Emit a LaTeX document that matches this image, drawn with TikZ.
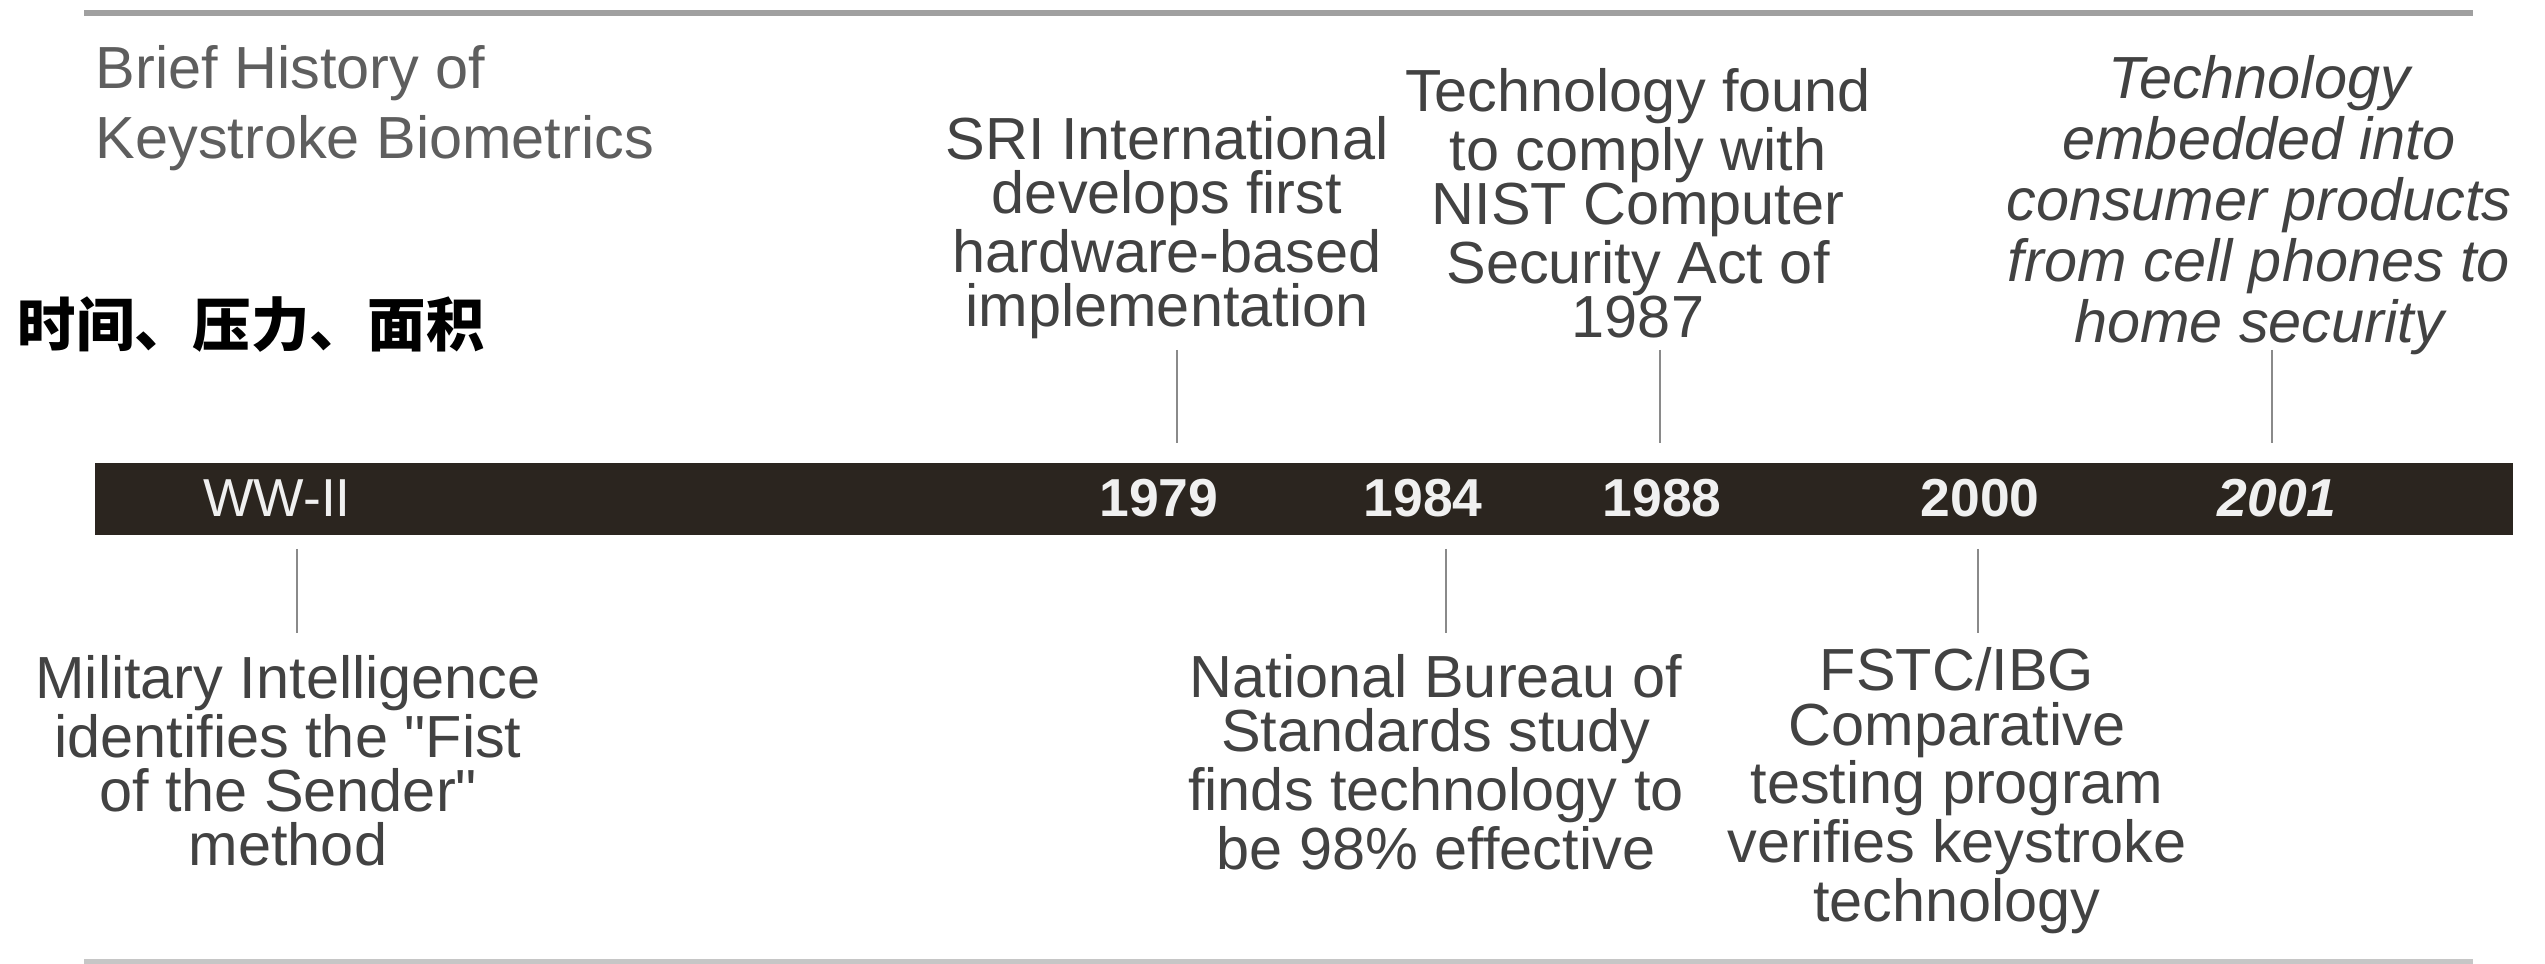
\documentclass[tikz,border=0pt]{standalone}
\usepackage{fontspec}
\setmainfont{Liberation Sans}[Ligatures=TeXOff]
\newfontfamily\cjk{Noto Sans CJK SC}
\definecolor{barfill}{HTML}{2B251F}
\definecolor{txt}{HTML}{424242}
\definecolor{rule}{HTML}{A0A0A0}
\definecolor{tick}{HTML}{8A8A8A}
\tikzset{
  event/.style={align=center, text=txt, inner sep=0pt, font=\fontsize{16.9}{15.4}\selectfont},
  ievent/.style={event, font=\fontsize{16.9}{17.3}\selectfont\itshape},
  yearlbl/.style={text=white!94!black, inner sep=0pt, font=\fontsize{15.2}{16}\selectfont\bfseries},
  ticked/.style={draw=tick, line width=0.75pt},
  hrule/.style={draw=rule, line width=1.7pt},
}
\begin{document}
\begin{tikzpicture}[x=0.01cm, y=-0.01cm]
\useasboundingbox (0,0) rectangle (2545,964);
% rules
\draw[hrule] (84,13) -- (2473,13);
\draw[hrule, draw=rule!60] (84,962) -- (2473,962);
% bar
\fill[barfill] (95,463) rectangle (2513,535);
% title
\node[anchor=west, text=txt!85, inner sep=0pt, align=left, font=\fontsize{16.9}{20}\selectfont] (title) at (95,108) {Brief History of\\Keystroke Biometrics};
\node[anchor=west, inner sep=0pt, font=\fontsize{16.6}{18}\selectfont\cjk\bfseries] (cjk) at (17,325) {时间、压力、面积};
% year labels
\node[yearlbl, font=\fontsize{15.2}{16}\selectfont] (y45) at (277,498) {WW-II};
\node[yearlbl] (y79) at (1159,498) {1979};
\node[yearlbl] (y84) at (1423,498) {1984};
\node[yearlbl] (y88) at (1662,498) {1988};
\node[yearlbl] (y00) at (1980,498) {2000};
\node[yearlbl, font=\fontsize{15.2}{16}\selectfont\bfseries\itshape] (y01) at (2277,498) {2001};
% events above
\node[event] (e79) at (1167,228) {SRI International\\develops first\\hardware-based\\implementation};
\node[event] (e88) at (1638,203) {Technology found\\to comply with\\NIST Computer\\Security Act of\\1987};
\node[ievent] (e01) at (2259,205) {Technology\\embedded into\\consumer products\\from cell phones to\\home security};
% events below
\node[event] (e45) at (288,761) {Military Intelligence\\identifies the "Fist\\of the Sender"\\method};
\node[event] (e84) at (1436,762) {National Bureau of\\Standards study\\finds technology to\\be 98\% effective};
\node[event] (e00) at (1957,791) {FSTC/IBG\\Comparative\\testing program\\verifies keystroke\\technology};
% ticks
\coordinate (t79a) at (1177,350); \coordinate (t79b) at (1177,443);
\coordinate (t88a) at (1660,350); \coordinate (t88b) at (1660,443);
\coordinate (t01a) at (2272,350); \coordinate (t01b) at (2272,443);
\coordinate (t45a) at (297,549); \coordinate (t45b) at (297,633);
\coordinate (t84a) at (1446,549); \coordinate (t84b) at (1446,633);
\coordinate (t00a) at (1978,549); \coordinate (t00b) at (1978,633);
\draw[ticked] (t79a) -- (t79b);
\draw[ticked] (t88a) -- (t88b);
\draw[ticked] (t01a) -- (t01b);
\draw[ticked] (t45a) -- (t45b);
\draw[ticked] (t84a) -- (t84b);
\draw[ticked] (t00a) -- (t00b);
\end{tikzpicture}
\end{document}
